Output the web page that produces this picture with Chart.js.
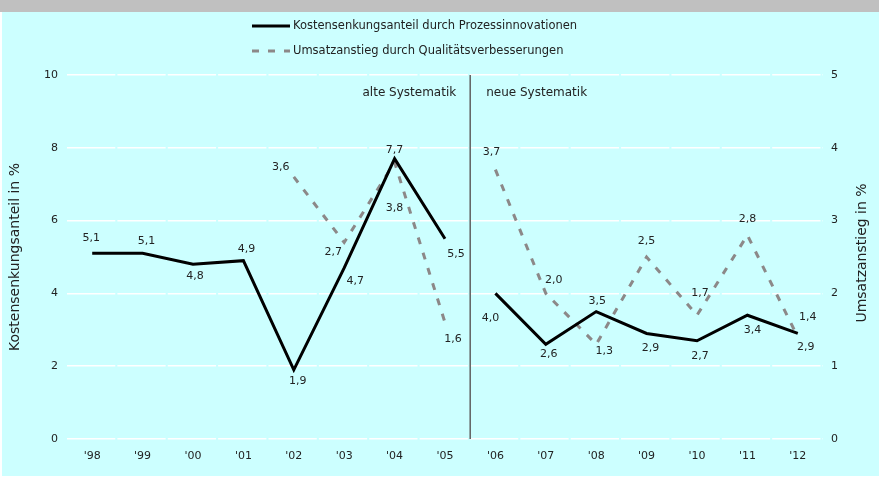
<!DOCTYPE html>
<html lang="de">
<head>
    <meta charset="UTF-8">
    <title>Kostensenkung und Umsatzanstieg durch Innovationen</title>
    <script src="https://cdn.jsdelivr.net/npm/chart.js@4.4.1/dist/chart.umd.min.js"></script>
    <style>
        html, body { margin: 0; padding: 0; background: #fff; }
        #wrap { width: 879px; height: 477px; }
    </style>
</head>
<body>
    <div id="wrap"><canvas id="chart" width="879" height="477"></canvas></div>

    <script>
        // Daten
        const years = ["'98", "'99", "'00", "'01", "'02", "'03", "'04", "'05", "'06", "'07", "'08", "'09", "'10", "'11", "'12"];
        const kostensenkung = [5.1, 5.1, 4.8, 4.9, 1.9, 4.7, 7.7, 5.5, 4.0, 2.6, 3.5, 2.9, 2.7, 3.4, 2.9];
        const umsatzanstieg = [null, null, null, null, 3.6, 2.7, 3.8, 1.6, 3.7, 2.0, 1.3, 2.5, 1.7, 2.8, 1.4];
        const seriesNames = ['Kostensenkungsanteil durch Prozessinnovationen', 'Umsatzanstieg durch Qualitätsverbesserungen'];
        const axisTitles = ['Kostensenkungsanteil in %', 'Umsatzanstieg in %'];
        const periodLabels = ['alte Systematik', 'neue Systematik'];
        const lastOldIndex = 7; // '05 = letzter Wert der alten Systematik

        // Verschiebung der Wertebeschriftungen (dx, dy) relativ zum Punkt
        const solidLabelOffsets = [[-1, -15], [4, -12], [2, 12], [3, -11], [4, 11], [11, 13], [0, -9], [11, 15],
                                   [-5, 25], [3, 10], [1, -10], [4, 15], [3, 15], [5, 15], [8, 14]];
        const dashedLabelOffsets = [null, null, null, null, [-13, -10], [-11, 10], [0, 46], [8, 17],
                                    [-4, -17], [8, -13], [8, 7], [0, -16], [3, -22], [0, -16], [10, -20]];

        const FONT = 'DejaVu Sans, Verdana, sans-serif';
        const TEXT = '#222';
        const GREY = '#8c8888';

        // kein Strich zwischen '05 und '06
        const breakSegment = color => ctx => ctx.p0DataIndex === lastOldIndex ? 'rgba(0,0,0,0)' : color;

        const fmt = v => v.toFixed(1).replace('.', ',');

        // Hintergrund
        const backgroundPlugin = {
            id: 'background',
            beforeDraw(chart) {
                const c = chart.ctx;
                c.save();
                c.fillStyle = '#ffffff';
                c.fillRect(0, 0, chart.width, chart.height);
                c.fillStyle = '#ccffff';
                c.fillRect(2, 12, chart.width - 2, chart.height - 13);
                c.fillStyle = '#c0c0c0';
                c.fillRect(0, 0, chart.width, 12);
                c.restore();
            }
        };

        // Trennlinie, Beschriftungen, Legende
        const extrasPlugin = {
            id: 'extras',
            afterDatasetsDraw(chart) {
                const c = chart.ctx;
                const x = chart.scales.x;
                const area = chart.chartArea;
                const sep = (x.getPixelForValue(lastOldIndex) + x.getPixelForValue(lastOldIndex + 1)) / 2;

                c.save();
                c.strokeStyle = '#606060';
                c.lineWidth = 1.5;
                c.beginPath();
                c.moveTo(sep, area.top);
                c.lineTo(sep, area.bottom);
                c.stroke();

                c.fillStyle = TEXT;
                c.font = '12px ' + FONT;
                c.textBaseline = 'middle';
                c.textAlign = 'right';
                c.fillText(periodLabels[0], sep - 14, 93);
                c.textAlign = 'left';
                c.fillText(periodLabels[1], sep + 16, 93);

                // rechte Achsenbeschriftung, von unten nach oben gelesen
                c.save();
                c.font = '14px ' + FONT;
                c.textAlign = 'center';
                c.translate(862, (area.top + area.bottom) / 2 - 4);
                c.rotate(-Math.PI / 2);
                c.fillText(axisTitles[1], 0, 0);
                c.restore();

                // Wertebeschriftungen
                c.font = '11px ' + FONT;
                c.textAlign = 'center';
                const offsets = [solidLabelOffsets, dashedLabelOffsets];
                chart.data.datasets.forEach((ds, di) => {
                    const meta = chart.getDatasetMeta(di);
                    ds.data.forEach((v, i) => {
                        if (v === null || !offsets[di][i]) return;
                        const pt = meta.data[i];
                        c.fillText(fmt(v), pt.x + offsets[di][i][0], pt.y + offsets[di][i][1]);
                    });
                });

                // Legende
                const rows = [26, 51];
                c.font = '11.5px ' + FONT;
                c.textAlign = 'left';
                chart.data.datasets.forEach((ds, di) => {
                    c.strokeStyle = ds.borderColor;
                    c.lineWidth = 3;
                    c.setLineDash(ds.borderDash || []);
                    c.beginPath();
                    c.moveTo(252, rows[di]);
                    c.lineTo(290, rows[di]);
                    c.stroke();
                    c.setLineDash([]);
                    c.fillStyle = TEXT;
                    c.fillText(ds.label, 293, rows[di]);
                });
                c.restore();
            }
        };

        const ctx = document.getElementById('chart').getContext('2d');
        new Chart(ctx, {
            type: 'line',
            data: {
                labels: years,
                datasets: [{
                    label: seriesNames[0],
                    data: kostensenkung,
                    yAxisID: 'y',
                    borderColor: '#000000',
                    borderWidth: 3,
                    pointRadius: 0,
                    tension: 0,
                    segment: { borderColor: breakSegment('#000000') }
                }, {
                    label: seriesNames[1],
                    data: umsatzanstieg,
                    yAxisID: 'y1',
                    borderColor: GREY,
                    borderWidth: 3,
                    borderDash: [7, 9],
                    borderCapStyle: 'butt',
                    pointRadius: 0,
                    tension: 0,
                    spanGaps: false,
                    segment: { borderColor: breakSegment(GREY) }
                }]
            },
            options: {
                responsive: false,
                animation: false,
                devicePixelRatio: 1,
                layout: { padding: { top: 75, left: 0, right: 0, bottom: 0 } },
                plugins: {
                    legend: { display: false },
                    tooltip: { enabled: false }
                },
                scales: {
                    x: {
                        offset: true,
                        grid: { display: false, drawTicks: false },
                        border: { display: false },
                        ticks: { color: TEXT, font: { family: FONT, size: 11 }, padding: 11, maxRotation: 0, autoSkip: false },
                        afterFit: s => { s.height = 38; }
                    },
                    y: {
                        position: 'left',
                        min: 0,
                        max: 10,
                        ticks: { stepSize: 2, color: TEXT, font: { family: FONT, size: 11 }, padding: 9 },
                        grid: { color: '#ffffff', lineWidth: 1.5, drawTicks: false },
                        border: { display: false, dash: [48.3, 2.07] },
                        title: { display: true, text: axisTitles[0], color: TEXT, font: { family: FONT, size: 14 }, padding: { top: 6.6, bottom: 0 } },
                        afterFit: s => { s.width = 67; }
                    },
                    y1: {
                        position: 'right',
                        min: 0,
                        max: 5,
                        ticks: { stepSize: 1, color: TEXT, font: { family: FONT, size: 11 }, padding: 8 },
                        grid: { display: false, drawTicks: false },
                        border: { display: false },
                        title: { display: false },
                        afterFit: s => { s.width = 56; }
                    }
                }
            },
            plugins: [backgroundPlugin, extrasPlugin]
        });
    </script>
</body>
</html>
